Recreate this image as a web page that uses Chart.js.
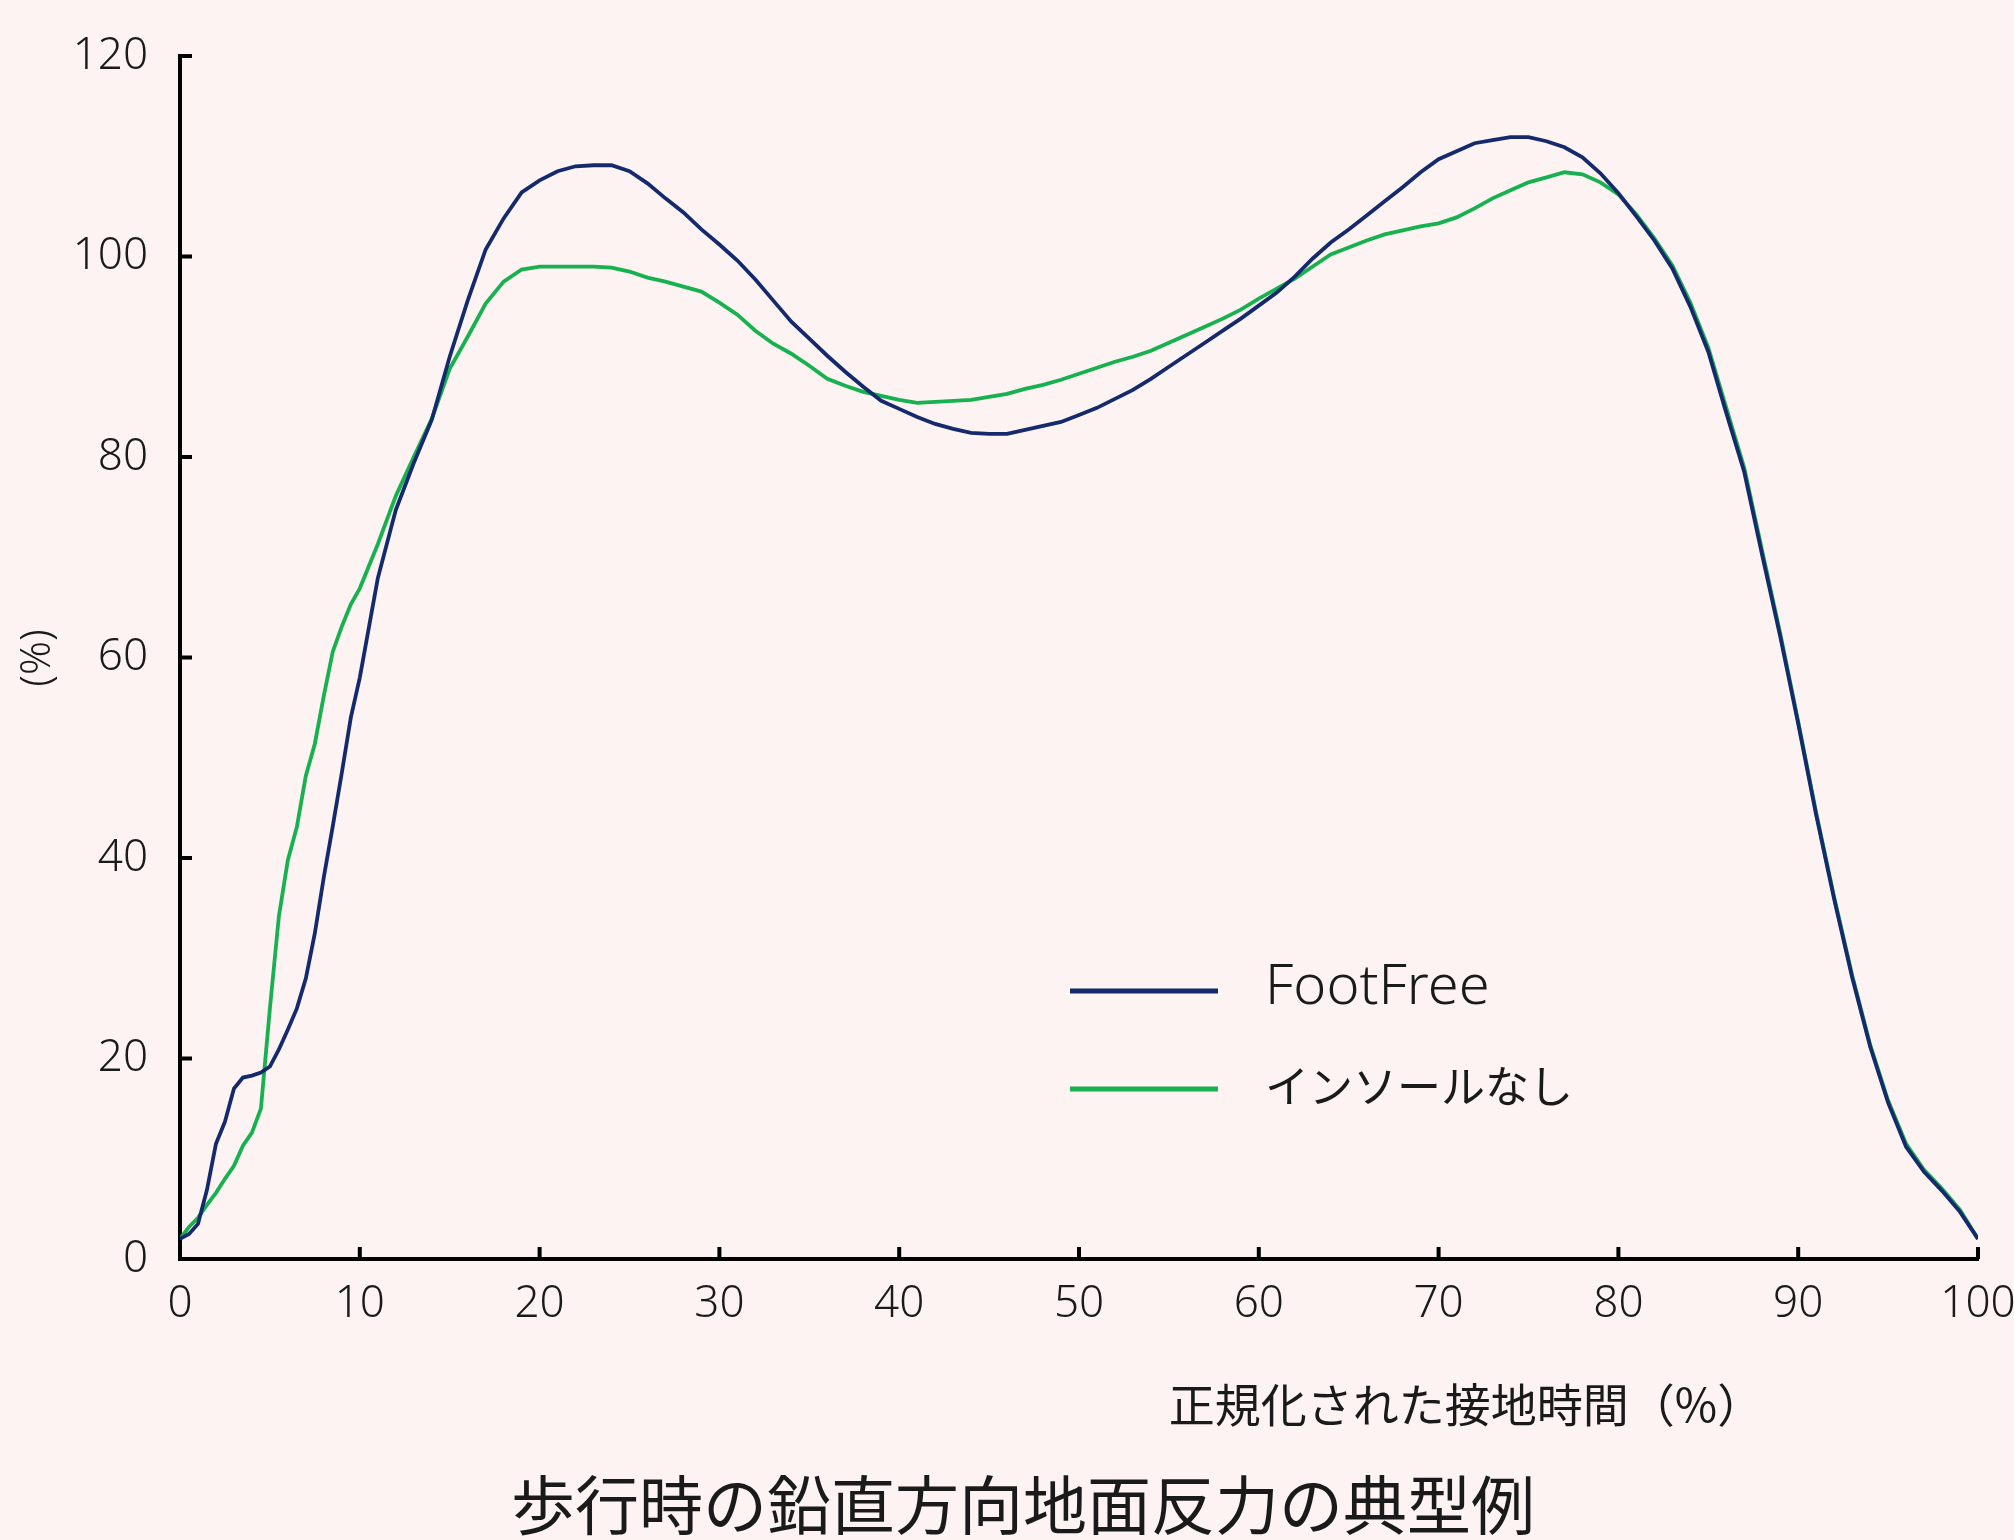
<!DOCTYPE html>
<html lang="ja">
<head>
<meta charset="utf-8">
<title>歩行時の鉛直方向地面反力の典型例</title>
<script src="https://cdn.jsdelivr.net/npm/chart.js@4.4.1/dist/chart.umd.min.js"></script>
<style>
  html, body { margin: 0; padding: 0; background: #fdf3f2; }
  canvas { display: block; }
</style>
</head>
<body>
<canvas id="myChart" width="2014" height="1540"></canvas>
<script>
/* globals Chart:false */

// normalized contact time (%)
const pct = [
  0, 0.5, 1, 1.5, 2, 2.5, 3, 3.5, 4, 4.5, 5, 5.5, 6, 6.5, 7, 7.5, 8, 8.5, 9, 9.5, 10,
  11, 12, 13, 14, 15, 16, 17, 18, 19, 20,
  21, 22, 23, 24, 25, 26, 27, 28, 29, 30,
  31, 32, 33, 34, 35, 36, 37, 38, 39, 40,
  41, 42, 43, 44, 45, 46, 47, 48, 49, 50,
  51, 52, 53, 54, 55, 56, 57, 58, 59, 60,
  61, 62, 63, 64, 65, 66, 67, 68, 69, 70,
  71, 72, 73, 74, 75, 76, 77, 78, 79, 80,
  81, 82, 83, 84, 85, 86, 87, 88, 89, 90,
  91, 92, 93, 94, 95, 96, 97, 98, 99, 100
]

// vertical ground reaction force (%)
const footFree = [
  2.0, 2.5, 3.5, 6.9, 11.5, 13.7, 17.0, 18.1, 18.3, 18.6, 19.2, 20.9, 22.9, 25.0, 28.0, 32.5, 38.1, 43.2, 48.5, 54.0, 58.0,
  67.9, 74.7, 79.4, 83.7, 90.0, 95.6, 100.7, 103.8, 106.4, 107.6,
  108.5, 109.0, 109.1, 109.1, 108.5, 107.3, 105.8, 104.4, 102.7, 101.2,
  99.6, 97.7, 95.6, 93.5, 91.8, 90.1, 88.5, 87.0, 85.6, 84.8,
  84.0, 83.3, 82.8, 82.4, 82.3, 82.3, 82.7, 83.1, 83.5, 84.2,
  84.9, 85.8, 86.7, 87.8, 89.0, 90.2, 91.4, 92.6, 93.8, 95.1,
  96.4, 98.0, 99.8, 101.4, 102.7, 104.1, 105.5, 106.9, 108.4, 109.7,
  110.5, 111.3, 111.6, 111.9, 111.9, 111.5, 110.9, 109.9, 108.3, 106.3,
  104.0, 101.6, 98.8, 95.0, 90.5, 84.4, 78.5, 70.2, 62.1, 53.4,
  44.3, 35.9, 28.1, 21.2, 15.6, 11.2, 8.7, 6.8, 4.7, 2.0
]

const noInsole = [
  2.0, 3.2, 4.1, 5.4, 6.6, 8.0, 9.3, 11.3, 12.6, 15.0, 25.0, 34.2, 39.8, 43.1, 48.2, 51.4, 56.2, 60.6, 63.1, 65.3, 66.9,
  71.3, 76.1, 80.0, 83.8, 88.8, 92.0, 95.3, 97.5, 98.7, 99.0,
  99.0, 99.0, 99.0, 98.9, 98.5, 97.9, 97.5, 97.0, 96.5, 95.4,
  94.2, 92.6, 91.3, 90.3, 89.1, 87.8, 87.1, 86.5, 86.1, 85.7,
  85.4, 85.5, 85.6, 85.7, 86.0, 86.3, 86.8, 87.2, 87.7, 88.3,
  88.9, 89.5, 90.0, 90.6, 91.4, 92.2, 93.0, 93.8, 94.7, 95.8,
  96.8, 97.8, 99.0, 100.2, 100.9, 101.6, 102.2, 102.6, 103.0, 103.3,
  103.9, 104.8, 105.8, 106.6, 107.4, 107.9, 108.4, 108.2, 107.4, 106.2,
  104.2, 101.8, 99.1, 95.4, 90.9, 84.9, 78.9, 70.6, 62.4, 53.6,
  44.5, 36.1, 28.3, 21.4, 15.8, 11.5, 8.9, 7.0, 4.9, 2.0
]

const seriesNames = ['FootFree', 'インソールなし']
const xTicks = [0, 10, 20, 30, 40, 50, 60, 70, 80, 90, 100]
const yTicks = [0, 20, 40, 60, 80, 100, 120]

const titleText = '歩行時の鉛直方向地面反力の典型例'
const xTitleText = '正規化された接地時間（%）'
const yTitleText = '(%)'

const NAVY = '#142a6c'
const GREEN = '#17b24f'
const BG = '#fdf3f2'
const LATIN = "'Noto Sans', 'Noto Sans CJK JP', sans-serif"
const CJK = "'Noto Sans CJK JP', 'Noto Sans', sans-serif"

const toPoints = (vals) => vals.map((v, i) => ({ x: pct[i], y: v }))

const background = {
  id: 'background',
  beforeDraw (chart) {
    const c = chart.ctx
    c.save()
    c.fillStyle = BG
    c.fillRect(0, 0, chart.width, chart.height)
    c.restore()
  }
}

// short tick marks pointing into the plot
const innerTicks = {
  id: 'innerTicks',
  afterDraw (chart) {
    const c = chart.ctx
    const { left, bottom } = chart.chartArea
    const x = chart.scales.x
    const y = chart.scales.y
    c.save()
    c.strokeStyle = '#000'
    c.lineWidth = 4
    c.beginPath()
    xTicks.slice(1).forEach(t => {
      const px = x.getPixelForValue(t)
      c.moveTo(px, bottom)
      c.lineTo(px, bottom - 12)
    })
    yTicks.slice(1).forEach(t => {
      const py = y.getPixelForValue(t)
      c.moveTo(left, py)
      c.lineTo(left + 12, py)
    })
    c.stroke()
    c.restore()
  }
}

// titles and the legend inside the plot
const texts = {
  id: 'texts',
  afterDraw (chart) {
    const c = chart.ctx
    c.save()
    c.fillStyle = '#1a1a1a'
    c.textAlign = 'center'
    c.textBaseline = 'middle'

    c.font = '64px ' + CJK
    c.fillText(titleText, 1023, 1505)

    c.font = '46px ' + CJK
    c.fillText(xTitleText, 1466, 1405)

    c.save()
    c.translate(38, 658)
    c.rotate(-Math.PI / 2)
    c.font = '300 42px ' + LATIN
    c.fillText(yTitleText, 0, 0)
    c.restore()

    const rows = [991, 1089]
    const fonts = ['300 56px ' + LATIN, '44px ' + CJK]
    chart.data.datasets.forEach((ds, i) => {
      c.strokeStyle = ds.borderColor
      c.lineWidth = 5
      c.beginPath()
      c.moveTo(1070, rows[i])
      c.lineTo(1218, rows[i])
      c.stroke()
      c.textAlign = 'left'
      c.font = fonts[i]
      c.fillText(ds.label, 1265, rows[i] - 3)
    })
    c.restore()
  }
}

const ctx = document.getElementById('myChart')
new Chart(ctx, {
  type: 'line',
  data: {
    datasets: [{
      label: seriesNames[0],
      data: toPoints(footFree),
      borderColor: NAVY,
      borderWidth: 3.8,
      pointRadius: 0,
      tension: 0
    }, {
      label: seriesNames[1],
      data: toPoints(noInsole),
      borderColor: GREEN,
      borderWidth: 3.8,
      pointRadius: 0,
      tension: 0
    }]
  },
  options: {
    responsive: false,
    devicePixelRatio: 1,
    animation: false,
    layout: { padding: { left: 0, right: 36, top: 56, bottom: 0 } },
    plugins: {
      legend: { display: false },
      tooltip: { enabled: false }
    },
    scales: {
      x: {
        type: 'linear',
        min: 0,
        max: 100,
        afterBuildTicks (scale) { scale.ticks = xTicks.map(v => ({ value: v })) },
        afterFit (scale) {
          scale.height = 281
          scale.paddingLeft = 0
          scale.paddingRight = 0
        },
        grid: { display: false, drawTicks: false },
        border: { display: true, color: '#000', width: 4 },
        ticks: {
          padding: 19,
          color: '#1a1a1a',
          maxRotation: 0,
          autoSkip: false,
          font: { family: LATIN, size: 44, weight: '300' }
        }
      },
      y: {
        min: 0,
        max: 120,
        afterBuildTicks (scale) { scale.ticks = yTicks.map(v => ({ value: v })) },
        afterFit (scale) {
          scale.width = 180
          scale.paddingTop = 0
          scale.paddingBottom = 0
        },
        grid: { display: false, drawTicks: false },
        border: { display: true, color: '#000', width: 4 },
        ticks: {
          padding: 32,
          color: '#1a1a1a',
          font: { family: LATIN, size: 44, weight: '300' }
        }
      }
    }
  },
  plugins: [background, innerTicks, texts]
})
</script>
</body>
</html>
